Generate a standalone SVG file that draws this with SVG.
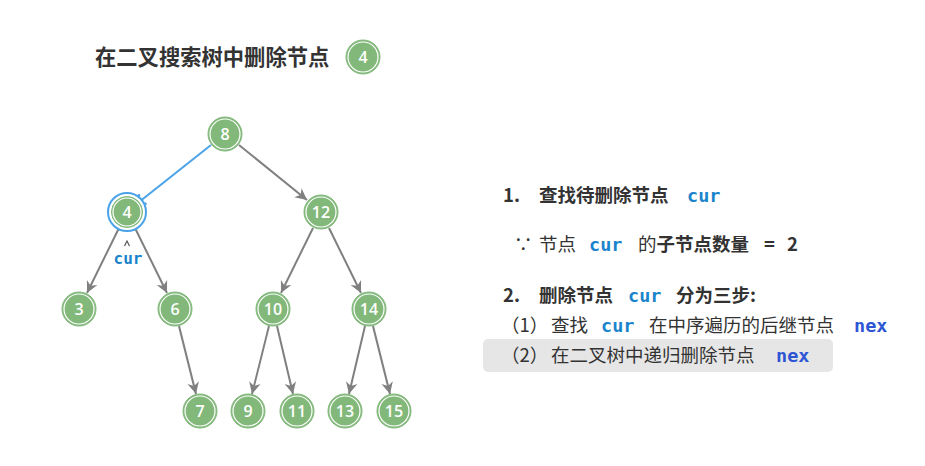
<svg xmlns="http://www.w3.org/2000/svg" width="925" height="466" viewBox="0 0 925 466">
<style>
.bg{fill:#ffffff}
.nc{fill:#82b97b;stroke:#82b97b;stroke-width:1}
.ring{fill:none;stroke:#ffffff;stroke-width:1.2}
.nt{font-family:"Open Sans","Noto Sans",sans-serif;font-size:16px;font-weight:600;fill:#ffffff;text-anchor:middle;dominant-baseline:central}
.edge{stroke:#808080;stroke-width:2;fill:none}
.edgeb{stroke:#4aa3e8;stroke-width:2;fill:none}
.t{font-family:"Noto Sans CJK SC","Noto Sans",sans-serif;font-size:18.5px;fill:#333333}
.b{font-weight:bold}
.code{font-family:"DejaVu Sans Mono","Liberation Mono",monospace;font-weight:bold;fill:#1a84cc}
.nex{font-family:"DejaVu Sans Mono","Liberation Mono",monospace;font-weight:bold;fill:#2d55d4}
.title{font-family:"Noto Sans CJK SC","Noto Sans",sans-serif;font-size:21.3px;font-weight:bold;fill:#333333}
</style>
<defs>
<marker id="ag" markerUnits="userSpaceOnUse" markerWidth="14" markerHeight="14" refX="10" refY="5" orient="auto" viewBox="0 0 12 10">
<path d="M0,0 L10,5 L0,10 L3,5 Z" fill="#808080"/>
</marker>
<marker id="ab" markerUnits="userSpaceOnUse" markerWidth="14" markerHeight="14" refX="10" refY="5" orient="auto" viewBox="0 0 12 10">
<path d="M0,0 L10,5 L0,10" fill="none" stroke="#4aa3e8" stroke-width="2"/>
</marker>
</defs>
<rect class="bg" x="0" y="0" width="925" height="466"/>

<g id="title">
<text class="title" x="95" y="65">在二叉搜索树中删除节点</text>
<circle class="nc" cx="363" cy="57" r="17"/>
<circle class="ring" cx="363" cy="57" r="15"/>
<text class="nt" x="363" y="57">4</text>
</g>

<g id="connectors">
<line class="edgeb" x1="211" y1="145" x2="134" y2="206" marker-end="url(#ab)"/>
<line class="edge" x1="239" y1="145" x2="307" y2="200" marker-end="url(#ag)"/>
<line class="edge" x1="119" y1="228" x2="87" y2="293" marker-end="url(#ag)"/>
<line class="edge" x1="135" y1="228" x2="167" y2="293" marker-end="url(#ag)"/>
<line class="edge" x1="313" y1="228" x2="281" y2="293" marker-end="url(#ag)"/>
<line class="edge" x1="329" y1="228" x2="361" y2="293" marker-end="url(#ag)"/>
<line class="edge" x1="179" y1="326" x2="196" y2="394" marker-end="url(#ag)"/>
<line class="edge" x1="269" y1="326" x2="252" y2="394" marker-end="url(#ag)"/>
<line class="edge" x1="277" y1="326" x2="293" y2="394" marker-end="url(#ag)"/>
<line class="edge" x1="365" y1="326" x2="349" y2="394" marker-end="url(#ag)"/>
<line class="edge" x1="373" y1="326" x2="390" y2="394" marker-end="url(#ag)"/>
</g>

<g id="n8"><circle class="nc" cx="225" cy="134" r="17"/><circle class="ring" cx="225" cy="134" r="15"/><text class="nt" x="225" y="134">8</text></g>
<g id="n4">
<circle cx="127" cy="212" r="19" fill="#ffffff" stroke="#4aa3e8" stroke-width="2"/>
<circle class="nc" cx="127" cy="212" r="15.5"/><circle class="ring" cx="127" cy="212" r="14"/><text class="nt" x="127" y="212">4</text>
</g>
<g id="n12"><circle class="nc" cx="321" cy="212" r="17"/><circle class="ring" cx="321" cy="212" r="15"/><text class="nt" x="321" y="212">12</text></g>
<g id="n3"><circle class="nc" cx="79" cy="309" r="17"/><circle class="ring" cx="79" cy="309" r="15"/><text class="nt" x="79" y="309">3</text></g>
<g id="n6"><circle class="nc" cx="175" cy="309" r="17"/><circle class="ring" cx="175" cy="309" r="15"/><text class="nt" x="175" y="309">6</text></g>
<g id="n10"><circle class="nc" cx="273" cy="309" r="17"/><circle class="ring" cx="273" cy="309" r="15"/><text class="nt" x="273" y="309">10</text></g>
<g id="n14"><circle class="nc" cx="369" cy="309" r="17"/><circle class="ring" cx="369" cy="309" r="15"/><text class="nt" x="369" y="309">14</text></g>
<g id="n7"><circle class="nc" cx="200" cy="411" r="17"/><circle class="ring" cx="200" cy="411" r="15"/><text class="nt" x="200" y="411">7</text></g>
<g id="n9"><circle class="nc" cx="248" cy="411" r="17"/><circle class="ring" cx="248" cy="411" r="15"/><text class="nt" x="248" y="411">9</text></g>
<g id="n11"><circle class="nc" cx="297" cy="411" r="17"/><circle class="ring" cx="297" cy="411" r="15"/><text class="nt" x="297" y="411">11</text></g>
<g id="n13"><circle class="nc" cx="345" cy="411" r="17"/><circle class="ring" cx="345" cy="411" r="15"/><text class="nt" x="345" y="411">13</text></g>
<g id="n15"><circle class="nc" cx="394" cy="411" r="17"/><circle class="ring" cx="394" cy="411" r="15"/><text class="nt" x="394" y="411">15</text></g>

<g id="curlabel">
<path d="M124.5,246 L127,241 L129.5,246" fill="none" stroke="#555555" stroke-width="1.2"/>
<text x="128" y="264" text-anchor="middle" class="code" font-size="16">cur</text>
</g>

<g id="steps">
<text class="t b" x="503" y="202">1.<tspan x="539">查找待删除节点</tspan><tspan x="687" class="code">cur</tspan></text>
<text class="t" x="514" y="251">∵<tspan x="539">节点</tspan><tspan x="589" class="code">cur</tspan><tspan x="638">的</tspan><tspan class="b">子节点数量</tspan><tspan x="764" class="b">=</tspan><tspan x="787" class="b">2</tspan></text>
<text class="t b" x="503" y="302">2.<tspan x="539">删除节点</tspan><tspan x="628" class="code">cur</tspan><tspan x="676">分为三步:</tspan></text>
<text class="t" x="501" y="332">（1）<tspan x="551">查找</tspan><tspan x="601" class="code">cur</tspan><tspan x="649">在中序遍历的后继节点</tspan><tspan x="854" class="nex">nex</tspan></text>
<rect x="483" y="339" width="350" height="33" rx="5" fill="#e6e6e6"/>
<text class="t" x="501" y="362">（2）<tspan x="551">在二叉树中递归删除节点</tspan><tspan x="776" class="nex">nex</tspan></text>
</g>
</svg>
